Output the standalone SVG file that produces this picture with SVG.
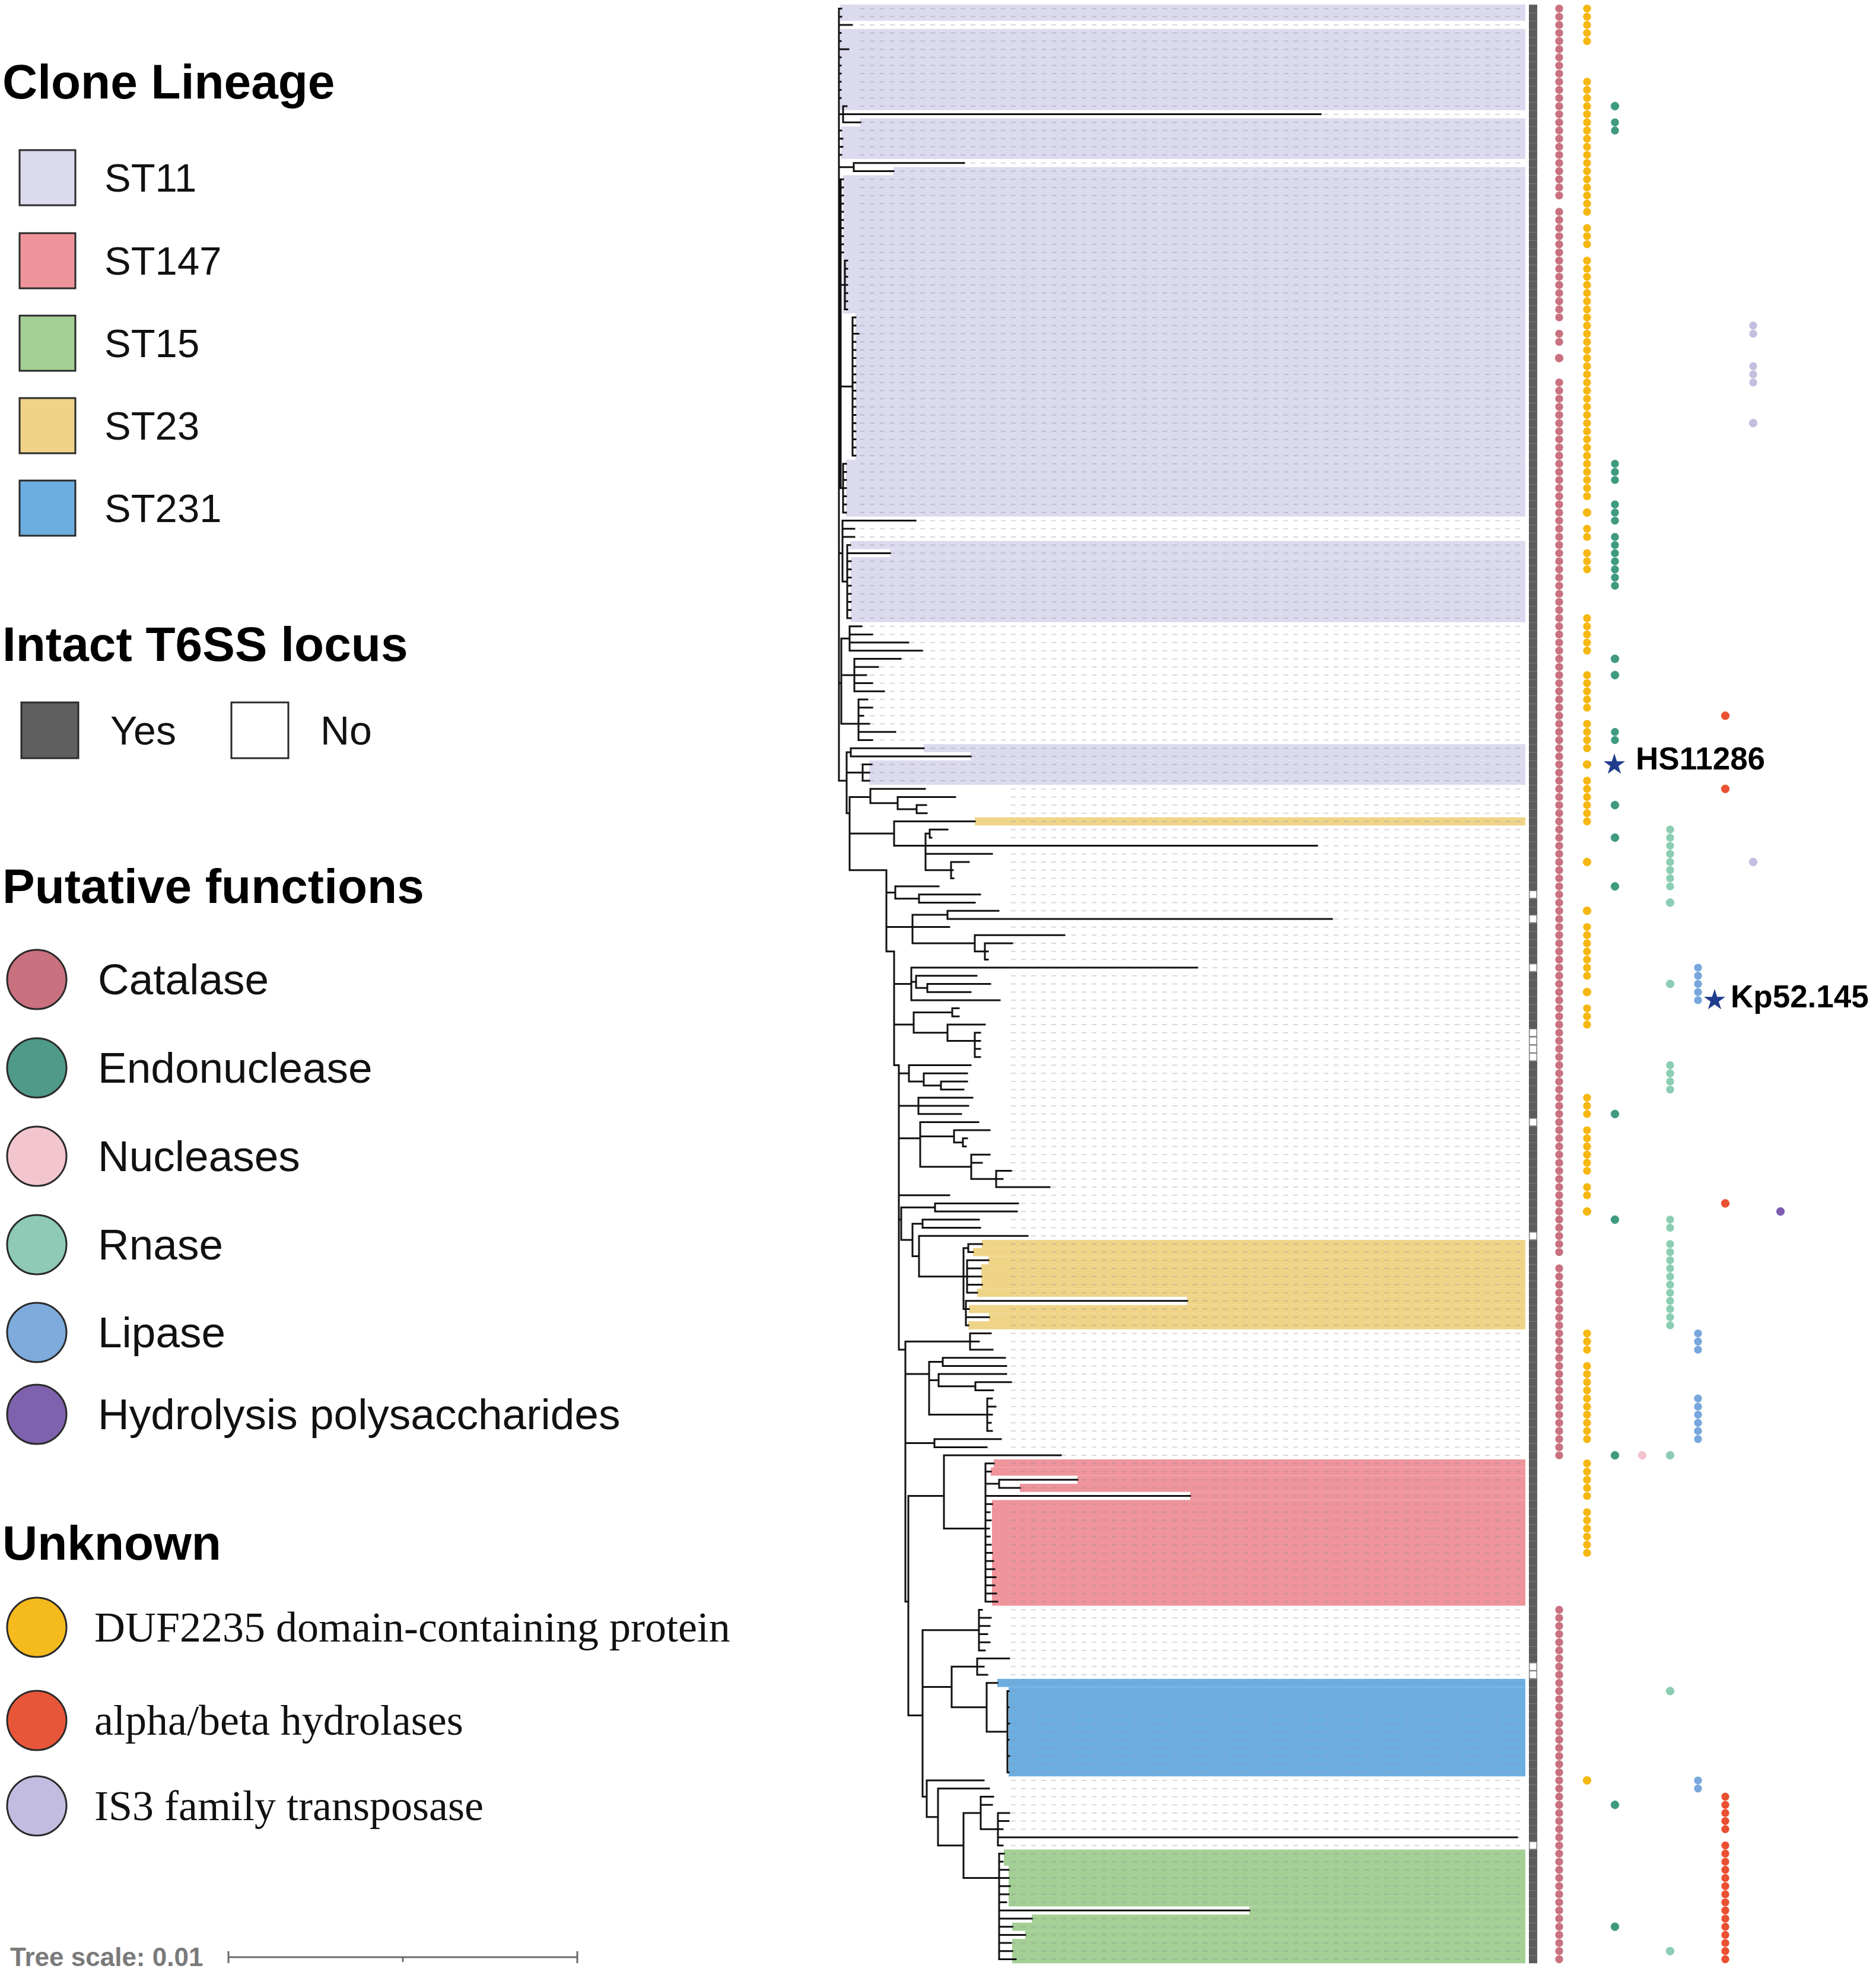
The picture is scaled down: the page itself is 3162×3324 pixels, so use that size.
<svg xmlns="http://www.w3.org/2000/svg" width="3162" height="3324" viewBox="0 0 3162 3324">
<style>
.h{font-family:"Liberation Sans",Arial,sans-serif;font-weight:bold;font-size:82px;fill:#000}
.st{font-family:"Liberation Sans",Arial,sans-serif;font-size:67px;fill:#111}
.fn{font-family:"Liberation Sans",Arial,sans-serif;font-size:73px;fill:#111}
.uk{font-family:"Liberation Serif","Times New Roman",serif;font-size:72px;fill:#111}
.lab{font-family:"Liberation Sans",Arial,sans-serif;font-weight:bold;font-size:53px;fill:#000}
.sc{font-family:"Liberation Sans",Arial,sans-serif;font-weight:bold;font-size:44px;fill:#7a7a7a}
.bx{stroke:#2a2a2a;stroke-width:3}
.s11{fill:#dbdaee}.s147{fill:#ef949b}.s15{fill:#a4cf95}.s23{fill:#efd488}.s231{fill:#6daee1}
.dot{fill:none;stroke-width:13.4;stroke-linecap:round;stroke-dasharray:0 13.7}
.cat{stroke:#c9717f;fill:#c9717f}.duf{stroke:#f6b710;fill:#f6b710}.endo{stroke:#3f9a80;fill:#3f9a80}
.nuc{stroke:#f3c2cd;fill:#f3c2cd}.rna{stroke:#8ccdb4;fill:#8ccdb4}.lip{stroke:#79a7dd;fill:#79a7dd}
.alp{stroke:#eb5030;fill:#eb5030}.is3{stroke:#c3bfe0;fill:#c3bfe0}.hyd{stroke:#7c5cb0;fill:#7c5cb0}
</style>
<defs>
<pattern id="dash" x="0" y="7.65" width="17" height="13.7" patternUnits="userSpaceOnUse"><rect x="4" y="6" width="8" height="1.7" fill="#8a8a9a" opacity="0.4"/></pattern>
<pattern id="t6" x="0" y="7.65" width="20" height="13.7" patternUnits="userSpaceOnUse"><rect width="20" height="13.7" fill="#5c5c5c"/><rect width="20" height="1" fill="#7d7d7d"/></pattern>
<polygon id="star" points="0,-1 0.2245,-0.309 0.951,-0.309 0.363,0.118 0.588,0.809 0,0.382 -0.588,0.809 -0.363,0.118 -0.951,-0.309 -0.2245,-0.309"/>
</defs>
<rect width="3162" height="3324" fill="#fff"/>

<g id="legend-clone">
<text class="h" x="4" y="166">Clone Lineage</text>
<g id="lg-st11"><rect class="bx s11" x="33" y="253" width="94" height="93"/><text class="st" x="176" y="323">ST11</text></g>
<g id="lg-st147"><rect class="bx s147" x="33" y="393" width="94" height="93"/><text class="st" x="176" y="463">ST147</text></g>
<g id="lg-st15"><rect class="bx s15" x="33" y="532" width="94" height="93"/><text class="st" x="176" y="602">ST15</text></g>
<g id="lg-st23"><rect class="bx s23" x="33" y="671" width="94" height="93"/><text class="st" x="176" y="741">ST23</text></g>
<g id="lg-st231"><rect class="bx s231" x="33" y="810" width="94" height="93"/><text class="st" x="176" y="880">ST231</text></g>
</g>

<g id="legend-t6ss">
<text class="h" x="4" y="1114">Intact T6SS locus</text>
<g id="lg-yes"><rect class="bx" x="36" y="1184" width="96" height="94" fill="#5f5f5f"/><text class="st" x="186" y="1255" style="font-size:68px">Yes</text></g>
<g id="lg-no"><rect class="bx" x="390" y="1184" width="96" height="94" fill="#fff"/><text class="st" x="540" y="1255" style="font-size:68px">No</text></g>
</g>

<g id="legend-functions">
<text class="h" x="4" y="1522">Putative functions</text>
<g id="lg-catalase"><circle class="bx" cx="62" cy="1651" r="50" fill="#c9717f"/><text class="fn" x="165" y="1676">Catalase</text></g>
<g id="lg-endo"><circle class="bx" cx="62" cy="1800" r="50" fill="#4f9a88"/><text class="fn" x="165" y="1825">Endonuclease</text></g>
<g id="lg-nuc"><circle class="bx" cx="62" cy="1949" r="50" fill="#f2c5cf"/><text class="fn" x="165" y="1974">Nucleases</text></g>
<g id="lg-rnase"><circle class="bx" cx="62" cy="2098" r="50" fill="#8ecab5"/><text class="fn" x="165" y="2123">Rnase</text></g>
<g id="lg-lipase"><circle class="bx" cx="62" cy="2246" r="50" fill="#7eaadc"/><text class="fn" x="165" y="2271">Lipase</text></g>
<g id="lg-hydro"><circle class="bx" cx="62" cy="2384" r="50" fill="#7e62ad"/><text class="fn" x="165" y="2409">Hydrolysis polysaccharides</text></g>
</g>

<g id="legend-unknown">
<text class="h" x="4" y="2629">Unknown</text>
<g id="lg-duf"><circle class="bx" cx="62" cy="2743" r="50" fill="#f5bb1d"/><text class="uk" x="159" y="2767">DUF2235 domain-containing protein</text></g>
<g id="lg-alpha"><circle class="bx" cx="62" cy="2900" r="50" fill="#e8563a"/><text class="uk" x="159" y="2924">alpha/beta hydrolases</text></g>
<g id="lg-is3"><circle class="bx" cx="62" cy="3044" r="50" fill="#c2bde0"/><text class="uk" x="159" y="3068">IS3 family transposase</text></g>
</g>

<g id="tree-scale">
<text class="sc" x="17" y="3314">Tree scale: 0.01</text>
<path d="M385 3299H973M385 3289V3309M973 3289V3309M679 3299V3307" stroke="#6b6b6b" stroke-width="3" fill="none"/>
</g>

<g id="clade-bands" transform="matrix(1 0 0 13.7 0 14.5)">
<g class="s11">
<rect x="1416" y="-0.5" width="1155" height="2"/>
<rect x="1416" y="2.5" width="1155" height="10"/>
<rect x="1450" y="13.5" width="1121" height="1"/>
<rect x="1418" y="14.5" width="1153" height="4"/>
<rect x="1506" y="19.5" width="1065" height="1"/>
<rect x="1421" y="20.5" width="1150" height="17"/>
<rect x="1442" y="37.5" width="1129" height="18"/>
<rect x="1426" y="55.5" width="1145" height="7"/>
<rect x="1433" y="65.5" width="1138" height="1"/>
<rect x="1500" y="66.5" width="1071" height="1"/>
<rect x="1434" y="67.5" width="1137" height="8"/>
<rect x="1557" y="90.5" width="1014" height="1"/>
<rect x="1636" y="91.5" width="935" height="1"/>
<rect x="1465" y="92.5" width="1106" height="3"/>
</g>
<g class="s23">
<rect x="1643" y="99.5" width="928" height="1"/>
<rect x="1655" y="151.5" width="916" height="1"/>
<rect x="1640" y="152.5" width="931" height="1"/>
<rect x="1666" y="153.5" width="905" height="1"/>
<rect x="1654" y="154.5" width="917" height="3"/>
<rect x="1647" y="157.5" width="924" height="1"/>
<rect x="2001" y="158.5" width="570" height="1"/>
<rect x="1633" y="159.5" width="938" height="1"/>
<rect x="1667" y="160.5" width="904" height="1"/>
<rect x="1632" y="161.5" width="939" height="1"/>
</g>
<g class="s147">
<rect x="1675" y="178.5" width="896" height="1"/>
<rect x="1670" y="179.5" width="901" height="1"/>
<rect x="1816" y="180.5" width="755" height="1"/>
<rect x="1719" y="181.5" width="852" height="1"/>
<rect x="2006" y="182.5" width="565" height="1"/>
<rect x="1672" y="183.5" width="899" height="13"/>
</g>
<g class="s231">
<rect x="1681" y="205.5" width="890" height="1"/>
<rect x="1700" y="206.5" width="871" height="11"/>
</g>
<g class="s15">
<rect x="1692" y="226.5" width="879" height="2"/>
<rect x="1700" y="228.5" width="871" height="5"/>
<rect x="2106" y="233.5" width="465" height="1"/>
<rect x="1739" y="234.5" width="832" height="1"/>
<rect x="1706" y="235.5" width="865" height="1"/>
<rect x="1728" y="236.5" width="843" height="1"/>
<rect x="1706" y="237.5" width="865" height="3"/>
</g>
</g>

<g id="guide-lines">
<rect x="1440" y="7.65" width="1131" height="1315.2" fill="url(#dash)"/>
<rect x="1700" y="1322.85" width="871" height="1986.5" fill="url(#dash)"/>
</g>

<g id="connectors" transform="matrix(1 0 0 13.7 0 14.5)">
<path vector-effect="non-scaling-stroke" fill="none" stroke="#111" stroke-width="3" stroke-linecap="square" d="M1414 0V95 M1414 0H1418 M1414 1H1418 M1414 2H1436 M1414 3H1417 M1414 4H1417 M1414 5H1430 M1414 6H1417 M1414 7H1417 M1414 8H1417 M1414 9H1417 M1414 10H1417 M1414 11H1417
M1414 13H1421 M1421 12V14 M1421 12H1427 M1421 13H2226 M1421 14H1450
M1414 15H1418 M1414 16H1420 M1414 17H1420 M1414 18H1418
M1414 19.5H1439 M1439 19V20 M1439 19H1625 M1439 20H1506
M1414 40H1417 M1417 21V59 M1417 21H1421 M1417 22H1421 M1417 23H1421 M1417 24H1421 M1417 25H1421 M1417 26H1421 M1417 27H1421 M1417 28H1421 M1417 29H1421 M1417 30H1421
M1417 34H1424 M1424 31V37 M1424 31H1428 M1424 32H1428 M1424 33H1428 M1424 34H1428 M1424 35H1428 M1424 36H1428 M1424 37H1428
M1417 46.5H1437 M1437 38V55 M1437 38H1442 M1437 39H1442 M1437 40H1447 M1437 41H1442 M1437 42H1442 M1437 43H1442 M1437 44H1442 M1437 45H1442 M1437 46H1442 M1437 47H1442 M1437 48H1442 M1437 49H1442 M1437 50H1442 M1437 51H1442 M1437 52H1442 M1437 53H1442 M1437 54H1442 M1437 55H1442
M1417 59H1421 M1421 56V62 M1421 56H1426 M1421 57H1426 M1421 58H1426 M1421 59H1426 M1421 60H1426 M1421 61H1426 M1421 62H1426
M1414 67H1420 M1420 63V70.5 M1420 63H1543 M1420 64H1440 M1420 65H1440 M1420 70.5H1428 M1428 66V75 M1428 66H1433 M1428 67H1500 M1428 68H1434 M1428 69H1434 M1428 70H1434 M1428 71H1434 M1428 72H1434 M1428 73H1434 M1428 74H1434 M1428 75H1434
M1414 83H1418 M1418 77.5V88 M1418 77.5H1432 M1432 76V79 M1432 76H1452 M1432 77H1470 M1432 78H1531 M1432 79H1554
M1418 82H1440 M1440 80V84 M1440 80H1518 M1440 81H1480 M1440 82H1460 M1440 83H1470 M1440 84H1490
M1418 88H1447 M1447 85V90 M1447 85H1462 M1447 86H1470 M1447 87H1455 M1447 88H1465 M1447 89H1509 M1447 90H1470
M1414 95H1427 M1427 91.5V99 M1427 91.5H1434 M1434 91V92 M1434 91H1557 M1434 92H1636 M1427 94H1454 M1454 93V95 M1454 93H1469 M1454 94H1465 M1454 95H1465 M1427 99H1432
M1432 97V106 M1432 97H1467 M1467 96V97.75 M1467 96H1559 M1467 97.75H1513 M1513 97V98.5 M1513 97H1610 M1513 98.5H1545 M1545 98V99 M1545 98H1561 M1545 99H1562
M1432 101.5H1507 M1507 100V103 M1507 100H1643 M1507 103H1560 M1560 101.5V106 M1560 101.5H1567 M1567 101V102 M1567 101H1597 M1567 102H1570 M1560 103H2220 M1560 104H1672 M1560 106H1603 M1603 105V107 M1603 105H1633 M1603 106H1606 M1603 107H1607
M1432 106H1494 M1494 106V116
M1494 108.75H1509 M1509 108V109.5 M1509 108H1582 M1509 109.5H1549 M1549 109V110 M1549 109H1652 M1549 110H1643
M1494 113H1538 M1538 111.5V115 M1538 111.5H1597 M1597 111V112 M1597 111H1683 M1597 112H2245 M1538 113H1600 M1538 115H1643 M1643 114V116 M1643 114H1794 M1643 116H1660 M1660 115V117 M1660 115H1706 M1660 116H1665 M1660 117H1665
M1494 116H1507 M1507 116V130
M1507 120H1536 M1536 118V122 M1536 118H2018 M1536 119.75H1544 M1544 119V120.5 M1544 119H1646 M1544 120.5H1563 M1563 120V121 M1563 120H1669 M1563 121H1636 M1536 122H1685
M1507 125H1540 M1540 123.5V126 M1540 123.5H1605 M1605 123V124 M1605 123H1616 M1605 124H1616 M1540 126H1597 M1597 125V127 M1597 125H1660 M1597 127H1643 M1643 126V129 M1643 126H1652 M1643 127H1652 M1643 128H1652 M1643 129H1652
M1507 130H1515 M1515 130V165
M1515 131H1532 M1532 130V132 M1532 130H1636 M1532 132H1557 M1557 131V132.5 M1557 131H1630 M1557 132.5H1586 M1586 132V133 M1586 132H1630 M1586 133H1624
M1515 135H1548 M1548 134V136 M1548 134H1639 M1548 135H1632 M1548 136H1620
M1515 139H1551 M1551 137V142.5 M1551 137H1649 M1551 138.75H1608 M1608 138V139.5 M1608 138H1668 M1608 139.5H1623 M1623 139V140 M1623 139H1630 M1623 140H1628 M1551 142.5H1637 M1637 141V144 M1637 141H1668 M1637 142H1655 M1637 144H1679 M1679 143V145 M1679 143H1704 M1679 144H1690 M1679 145H1769
M1515 146H1600 M1515 149H1519
M1519 147.5V151.5 M1519 147.5H1576 M1576 147V148 M1576 147H1716 M1576 148H1714 M1519 151.5H1538 M1538 149.5V153.5 M1538 149.5H1555 M1555 149V150 M1555 149H1650 M1555 150H1652 M1538 153.5H1549 M1549 151V156 M1549 151H1732 M1549 156H1624
M1624 152.5V160 M1624 152.5H1632 M1632 152V153 M1632 152H1655 M1632 153H1640 M1624 156H1630 M1630 154V158 M1630 154H1666 M1630 155H1653 M1630 156H1654 M1630 157H1655 M1630 158H1647 M1624 160H1628 M1628 159V162 M1628 159H2001 M1628 160H1633 M1628 161H1667 M1628 162H1632
M1515 165H1526 M1526 164V196
M1526 164H1635 M1635 163V165 M1635 163H1670 M1635 164H1650 M1635 165H1673
M1526 168H1566 M1566 166.5V173 M1566 166.5H1589 M1589 166V167 M1589 166H1694 M1589 167H1696 M1566 168.75H1582 M1582 168V169.5 M1582 168H1696 M1582 169.5H1644 M1644 169V170 M1644 169H1704 M1644 170H1674 M1566 173H1664 M1664 171V175 M1664 171H1672 M1664 172H1678 M1664 173H1672 M1664 174H1670 M1664 175H1672
M1526 176.5H1575 M1575 176V177 M1575 176H1687 M1575 177H1663
M1526 196H1531 M1531 183V210
M1531 183H1591 M1591 178V187 M1591 178H1788 M1591 187H1661
M1661 179V196 M1661 179H1675 M1661 180H1670 M1661 181.5H1684 M1684 181V182 M1684 181H1816 M1684 182H1719 M1661 183H2006 M1661 184H1672 M1661 185H1668 M1661 186H1670 M1661 187H1667 M1661 188H1668 M1661 189H1670 M1661 190H1672 M1661 191H1674 M1661 192H1676 M1661 193H1678 M1661 194H1676 M1661 195H1679 M1661 196H1681
M1531 210H1555 M1555 199.5V220
M1555 199.5H1650 M1650 197V202 M1650 197H1655 M1650 198H1670 M1650 199H1668 M1650 200H1664 M1650 201H1668 M1650 202H1660
M1555 206.5H1604 M1604 204V209 M1604 204H1647 M1647 203V205 M1647 203H1701 M1647 204H1658 M1647 205H1664 M1604 209H1663 M1663 206V212 M1663 206H1681 M1663 212H1698 M1698 207V217 M1698 207H1700 M1698 209H1700 M1698 211H1701 M1698 213H1700 M1698 215H1701 M1698 217H1700
M1555 220H1562 M1562 218V222.5 M1562 218H1658 M1562 222.5H1581 M1581 219V226 M1581 219H1667 M1581 226H1624 M1624 222V230 M1624 222H1653 M1653 220V224 M1653 220H1674 M1653 221H1672 M1653 224H1682 M1682 222V226 M1682 222H1701 M1682 223H1700 M1682 224H1690 M1682 225H2557 M1682 226H1690 M1624 230H1684
M1684 227V240 M1684 227H1692 M1684 228H1690 M1684 229H1700 M1684 230H1700 M1684 231H1702 M1684 232H1700 M1684 233H1696 M1684 234H2106 M1684 235H1739 M1684 236H1706 M1684 237H1728 M1684 238H1704 M1684 239H1706 M1684 240H1712"/>
</g>

<g id="t6ss-bar">
<rect x="2577" y="7.65" width="14" height="3301.7" fill="url(#t6)"/>
<g fill="#fff" stroke="#8a8a8a" stroke-width="1">
<rect x="2578" y="1501.7" width="12" height="12.2"/>
<rect x="2578" y="1542.8" width="12" height="12.2"/>
<rect x="2578" y="1625" width="12" height="12.2"/>
<rect x="2578" y="1734.6" width="12" height="12.2"/>
<rect x="2578" y="1748.3" width="12" height="12.2"/>
<rect x="2578" y="1762" width="12" height="12.2"/>
<rect x="2578" y="1775.7" width="12" height="12.2"/>
<rect x="2578" y="1885.3" width="12" height="12.2"/>
<rect x="2578" y="2077.1" width="12" height="12.2"/>
<rect x="2578" y="2803.2" width="12" height="12.2"/>
<rect x="2578" y="2816.9" width="12" height="12.2"/>
<rect x="2578" y="3104.6" width="12" height="12.2"/>
</g>
</g>

<g id="col-catalase" class="cat">
<path class="dot cat" d="M2628 14.5V330.6M2628 357V536.1M2628 562.5V577.2M2628 644.7V2111.6M2628 2138V2454.1M2628 2713.4V3303.5"/>
<circle cx="2628" cy="603.6" r="6.7"/>
</g>
<g id="col-duf" class="duf">
<path class="dot duf" d="M2675 14.5V70.3M2675 137.8V358M2675 384.4V412.8M2675 439.2V837.5M2675 891.3V906M2675 932.4V960.8M2675 1042V1097.8M2675 1137.9V1193.7M2675 1220.1V1262.2M2675 1316V1385.5M2675 1562.6V1645.8M2675 1699.6V1728M2675 1850.3V1878.7M2675 1905.1V1974.6M2675 2001V2015.7M2675 2247.6V2276M2675 2302.4V2426.7M2675 2466.8V2522.6M2675 2549V2618.5"/>
<circle cx="2675" cy="863.9" r="6.7"/><circle cx="2675" cy="1288.6" r="6.7"/><circle cx="2675" cy="1453" r="6.7"/><circle cx="2675" cy="1535.2" r="6.7"/><circle cx="2675" cy="1672.2" r="6.7"/><circle cx="2675" cy="2042.1" r="6.7"/><circle cx="2675" cy="3001.1" r="6.7"/>
</g>
<g id="col-endo" class="endo">
<path class="dot endo" d="M2722 206.3V221M2722 781.7V810.1M2722 850.2V878.6M2722 905V988.2M2722 1233.8V1248.5"/>
<circle cx="2722" cy="178.9" r="6.7"/><circle cx="2722" cy="1110.5" r="6.7"/><circle cx="2722" cy="1137.9" r="6.7"/><circle cx="2722" cy="1357.1" r="6.7"/><circle cx="2722" cy="1411.9" r="6.7"/><circle cx="2722" cy="1494.1" r="6.7"/><circle cx="2722" cy="1877.7" r="6.7"/><circle cx="2722" cy="2055.8" r="6.7"/><circle cx="2722" cy="2453.1" r="6.7"/><circle cx="2722" cy="3042.2" r="6.7"/><circle cx="2722" cy="3247.7" r="6.7"/>
</g>
<g id="col-nuc" class="nuc"><circle cx="2768" cy="2453.1" r="6.7"/></g>
<g id="col-rnase" class="rna">
<path class="dot rna" d="M2815 1398.2V1495.1M2815 1795.5V1837.6M2815 2055.8V2070.5M2815 2096.9V2234.9"/>
<circle cx="2815" cy="1521.5" r="6.7"/><circle cx="2815" cy="1658.5" r="6.7"/><circle cx="2815" cy="2453.1" r="6.7"/><circle cx="2815" cy="2850.4" r="6.7"/><circle cx="2815" cy="3288.8" r="6.7"/>
</g>
<g id="col-lipase" class="lip">
<path class="dot lip" d="M2862 1631.1V1686.9M2862 2247.6V2276M2862 2357.2V2426.7M2862 3001.1V3015.8"/>
</g>
<g id="col-alpha" class="alp">
<path class="dot alp" d="M2908 3028.5V3084.3M2908 3110.7V3303.5"/>
<circle cx="2908" cy="1206.4" r="6.7"/><circle cx="2908" cy="1329.7" r="6.7"/><circle cx="2908" cy="2028.4" r="6.7"/>
</g>
<g id="col-is3" class="is3">
<path class="dot is3" d="M2955 548.8V563.5M2955 617.3V645.7"/>
<circle cx="2955" cy="713.2" r="6.7"/><circle cx="2955" cy="1453" r="6.7"/>
</g>
<g id="col-hydro" class="hyd"><circle cx="3001" cy="2042.1" r="6.7"/></g>

<g id="mark-hs11286">
<use href="#star" transform="translate(2721 1289) scale(19)" fill="#1f3d8c"/>
<text class="lab" x="2757" y="1297">HS11286</text>
</g>
<g id="mark-kp52">
<use href="#star" transform="translate(2890 1686) scale(19)" fill="#1f3d8c"/>
<text class="lab" x="2917" y="1698">Kp52.145</text>
</g>
</svg>
